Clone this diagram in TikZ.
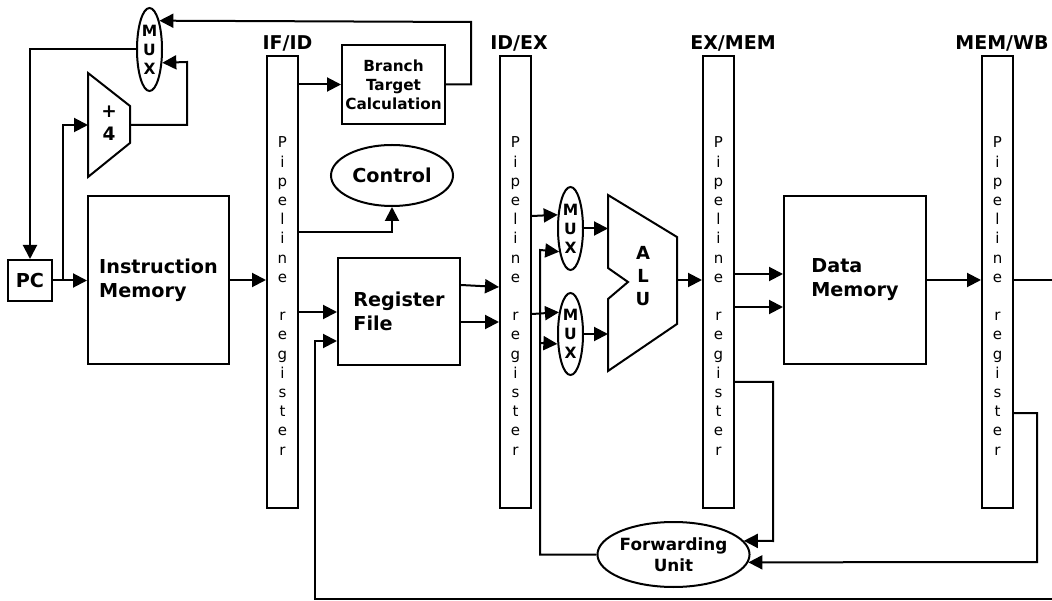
\documentclass[tikz,border=0pt]{standalone}
\usepackage{fontspec}
\setmainfont{DejaVu Sans}
\usetikzlibrary{arrows.meta,shapes.geometric,calc}
\begin{document}
\begin{tikzpicture}[x=1pt,y=-1pt,line width=2pt,
  box/.style={draw,rectangle,inner sep=0pt},
  reg/.style={draw,rectangle,minimum width=31pt,minimum height=452pt,inner sep=0pt},
  ell/.style={draw,ellipse,inner sep=0pt},
  bigb/.style={font=\fontsize{19.2}{24}\selectfont\bfseries},
  lbl/.style={font=\fontsize{19}{22}\selectfont\bfseries,anchor=base,inner sep=0pt},
  muxs/.style={draw,ellipse,inner sep=0pt,minimum width=25pt,minimum height=83pt,align=center,font=\fontsize{15.5}{19}\selectfont\bfseries},
  pipe/.style={align=center,inner sep=0pt,font=\fontsize{15}{19.2}\selectfont},
  arr/.style={-{Triangle[length=14pt,width=14pt]}}
]
\useasboundingbox (0,0) rectangle (1052,601);

% pipeline registers
\node[reg] (ifid) at (282.5,282) {};
\node[reg] (idex) at (515.5,282) {};
\node[reg] (exmem) at (718.5,282) {};
\node[reg] (memwb) at (997.5,282) {};
\foreach \r/\nm in {ifid/ifidt,idex/idext,exmem/exmemt,memwb/memwbt}{
  \node[pipe] (\nm) at ($(\r.center)+(0,14)$) {P\\i\\p\\e\\l\\i\\n\\e\\[19.2pt]r\\e\\g\\i\\s\\t\\e\\r};
}
\node[lbl] (lifid) at (287.5,50) {IF/ID};
\node[lbl] (lidex) at (519,50) {ID/EX};
\node[lbl] (lexmem) at (733,50) {EX/MEM};
\node[lbl] (lmemwb) at (1002,50) {MEM/WB};

% blocks
\node[box,minimum width=44pt,minimum height=41pt,bigb] (pc) at (30,280.5) {PC};
\node[box,minimum width=141pt,minimum height=168pt,bigb,align=left] (im) at (158.5,280) {Instruction\\Memory};
\node[box,minimum width=103pt,minimum height=79pt,align=center,font=\fontsize{15.3}{19}\selectfont\bfseries] (btc) at (393.5,84.5) {Branch\\Target\\Calculation};
\node[ell,minimum width=122pt,minimum height=61pt,bigb] (ctrl) at (392,175.5) {Control};
\node[box,minimum width=122pt,minimum height=107pt,bigb,align=left] (rf) at (399,311.5) {Register\\File};
\node[box,minimum width=142pt,minimum height=168pt,bigb,align=left] (dm) at (855,280) {Data\\Memory};
\node[ell,minimum width=143pt,minimum height=65pt,align=center,font=\fontsize{16.8}{21}\selectfont\bfseries] (fwd) at (673.5,554.5) {Forwarding\\Unit};

\node[muxs] (topmux) at (149.5,49.5) {M\\U\\X};
\node[muxs] (mux1) at (570.5,228.5) {M\\U\\X};
\node[muxs,minimum height=82pt] (mux2) at (570.5,334) {M\\U\\X};

% adder
\draw (88,73) -- (130,106) -- (130,143) -- (88,177) -- cycle;
\coordinate (addin) at (88,125);
\coordinate (addout) at (130,125);
\node[align=center,inner sep=0pt,font=\fontsize{18.5}{23}\selectfont\bfseries] (addtxt) at (109,123) {+\\4};

% ALU
\draw (608,195) -- (677,237) -- (677,324) -- (608,371) -- (608,299) -- (628,282) -- (608,268) -- cycle;
\coordinate (aluin1) at (608,228.5);
\coordinate (aluin2) at (608,334);
\coordinate (aluout) at (677,280);
\node[align=center,inner sep=0pt,font=\fontsize{18}{23}\selectfont\bfseries] (alutxt) at (643,276) {A\\L\\U};

% connectors: fetch
\draw[arr] (topmux.west) -| (pc.north);
\draw[arr] (pc.east) -- (pc.east -| im.west);
\coordinate (pcbr) at (63,280.5);
\draw[arr] (pcbr) |- (addin);
\draw[arr] (addout) -| (187,62) -- (topmux.-46);
\draw[arr] (btc.east) -| (471,22) -- (topmux.71);
\draw[arr] (im.east) -- (im.east -| ifid.west);

% decode
\draw[arr] (ifid.east |- btc.west) -- (btc.west);
\draw[arr] (ifid.east |- 0,232) -| (ctrl.south);
\draw[arr] (ifid.east |- 0,312) -- (rf.west |- 0,312);
\coordinate (wbend) at (1052,599);
\draw[arr] (wbend) -| (315,341) -- (rf.west |- 0,341);
\draw[arr] (rf.east |- 0,285) -- (idex.west |- 0,287);
\draw[arr] (rf.east |- 0,322) -- (idex.west |- 0,322);

% execute
\draw[arr] (idex.east |- 0,216) -- (mux1.133.6);
\draw[arr] (idex.east |- 0,314) -- (mux2.118.6);
\draw[arr] (fwd.west) -| (540,250) -- (mux1.-116.4);
\draw[arr] (540,343) -- (mux2.-143.6);
\draw[arr] (mux1.east) -- (aluin1);
\draw[arr] (mux2.east) -- (aluin2);
\draw[arr] (aluout) -- (aluout -| exmem.west);

% memory
\draw[arr] (exmem.east |- 0,274) -- (dm.west |- 0,274);
\draw[arr] (exmem.east |- 0,307) -- (dm.west |- 0,307);
\draw[arr] (dm.east) -- (dm.east -| memwb.west);
\coordinate (wbout) at (1052,280);
\draw (memwb.east |- wbout) -- (wbout);

% forwarding inputs
\draw[arr] (exmem.east |- 0,382) -| (773,541) -- (fwd.11.7);
\draw[arr] (memwb.east |- 0,413) -| (1037,562) -- (fwd.-6.15);
\end{tikzpicture}
\end{document}
